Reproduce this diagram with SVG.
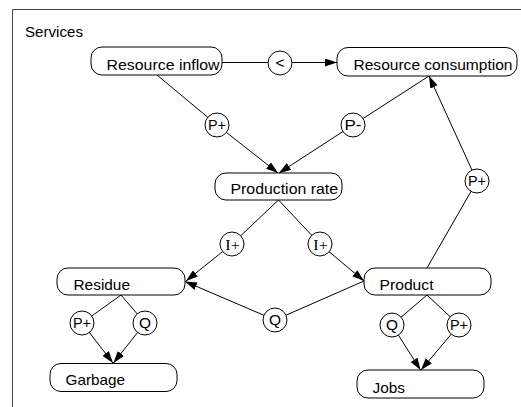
<svg xmlns="http://www.w3.org/2000/svg" width="521" height="407" viewBox="0 0 521 407">
  <defs>
    <marker id="arrow" markerUnits="userSpaceOnUse" markerWidth="12" markerHeight="8" refX="12" refY="4" orient="auto">
      <path d="M0,0 L12,4 L0,8 z" fill="#000"/>
    </marker>
    <style>
      .frame { fill: none; stroke: #444; stroke-width: 1; }
      .box { fill: #fff; stroke: #000; stroke-width: 1; }
      .lbl { font-family: "Liberation Sans", Arial, sans-serif; font-size: 14.5px; fill: #000; }
      .edge { fill: none; stroke: #000; stroke-width: 1; }
      .arr { marker-end: url(#arrow); }
      .rel { fill: #fff; stroke: #000; stroke-width: 1; }
      .rt { font-family: "Liberation Sans", Arial, sans-serif; font-size: 14px; fill: #000; text-anchor: middle; }
      .rts { font-family: "Liberation Serif", "Times New Roman", serif; font-size: 15px; fill: #000; text-anchor: middle; }
    </style>
  </defs>
  <rect width="521" height="407" fill="#fff"/>

  <!-- scenario frame -->
  <g id="frame">
    <path class="frame" d="M12.5,407 V9.5 H521"/>
    <text class="lbl" x="25" y="37" textLength="58" lengthAdjust="spacingAndGlyphs">Services</text>
  </g>

  <!-- dependencies: line through the relation circle, arrow at the target -->
  <g id="connectors">
    <g id="c-inflow-consumption">
      <path class="edge" d="M222,62.5 H280"/>
      <path class="edge arr" d="M280,62.5 H337"/>
      <circle class="rel" cx="280" cy="63" r="12"/>
      <text class="rt" x="280" y="68" textLength="9" lengthAdjust="spacingAndGlyphs">&lt;</text>
    </g>
    <g id="c-inflow-rate">
      <path class="edge" d="M157,75 L217,125"/>
      <path class="edge arr" d="M217,125 L278,173"/>
      <circle class="rel" cx="217" cy="125" r="12"/>
      <text class="rt" x="217" y="130" textLength="18" lengthAdjust="spacingAndGlyphs">P+</text>
    </g>
    <g id="c-consumption-rate">
      <path class="edge" d="M429,76 L353,125"/>
      <path class="edge arr" d="M353,125 L279,173"/>
      <circle class="rel" cx="353" cy="125" r="12"/>
      <text class="rt" x="353" y="130" textLength="17" lengthAdjust="spacingAndGlyphs">P-</text>
    </g>
    <g id="c-product-consumption">
      <path class="edge" d="M427,268 L477,181"/>
      <path class="edge arr" d="M477,181 L429,76"/>
      <circle class="rel" cx="477" cy="181" r="12"/>
      <text class="rt" x="477" y="186" textLength="18" lengthAdjust="spacingAndGlyphs">P+</text>
    </g>
    <g id="c-rate-residue">
      <path class="edge" d="M278.5,200 L232,244"/>
      <path class="edge arr" d="M232,244 L186,281"/>
      <circle class="rel" cx="232" cy="244" r="12"/>
      <text class="rts" x="232.5" y="249.5" textLength="14.5" lengthAdjust="spacingAndGlyphs">I+</text>
    </g>
    <g id="c-rate-product">
      <path class="edge" d="M278.5,200 L320,244"/>
      <path class="edge arr" d="M320,244 L364,281"/>
      <circle class="rel" cx="320" cy="244" r="12"/>
      <text class="rts" x="320.5" y="249.5" textLength="14.5" lengthAdjust="spacingAndGlyphs">I+</text>
    </g>
    <g id="c-product-residue">
      <path class="edge" d="M364,281 L275,320"/>
      <path class="edge arr" d="M275,320 L185,281.5"/>
      <circle class="rel" cx="275" cy="320" r="12"/>
      <text class="rt" x="275" y="325" textLength="12" lengthAdjust="spacingAndGlyphs">Q</text>
    </g>
    <g id="c-residue-garbage-p">
      <path class="edge" d="M121,295 L82,323"/>
      <path class="edge arr" d="M82,323 L113,363"/>
      <circle class="rel" cx="82" cy="323" r="12"/>
      <text class="rt" x="82" y="328" textLength="18" lengthAdjust="spacingAndGlyphs">P+</text>
    </g>
    <g id="c-residue-garbage-q">
      <path class="edge" d="M121,295 L145,323"/>
      <path class="edge arr" d="M145,323 L113.5,363"/>
      <circle class="rel" cx="145" cy="323" r="12"/>
      <text class="rt" x="145" y="328" textLength="12" lengthAdjust="spacingAndGlyphs">Q</text>
    </g>
    <g id="c-product-jobs-q">
      <path class="edge" d="M427,295 L392,325"/>
      <path class="edge arr" d="M392,325 L420.5,370"/>
      <circle class="rel" cx="392" cy="325" r="12"/>
      <text class="rt" x="392" y="330" textLength="12" lengthAdjust="spacingAndGlyphs">Q</text>
    </g>
    <g id="c-product-jobs-p">
      <path class="edge" d="M427,295 L459,325"/>
      <path class="edge arr" d="M459,325 L421,370"/>
      <circle class="rel" cx="459" cy="325" r="12"/>
      <text class="rt" x="459" y="330" textLength="18" lengthAdjust="spacingAndGlyphs">P+</text>
    </g>
  </g>

  <!-- quantities -->
  <g id="resource-inflow">
    <rect class="box" x="91" y="47" width="131" height="28" rx="11"/>
    <text class="lbl" x="106.5" y="69.5" textLength="113" lengthAdjust="spacingAndGlyphs">Resource inflow</text>
  </g>
  <g id="resource-consumption">
    <rect class="box" x="337" y="47.5" width="180" height="28.5" rx="11"/>
    <text class="lbl" x="353.5" y="70" textLength="159" lengthAdjust="spacingAndGlyphs">Resource consumption</text>
  </g>
  <g id="production-rate">
    <rect class="box" x="215" y="173" width="127" height="27" rx="11"/>
    <text class="lbl" x="230.5" y="194" textLength="107.5" lengthAdjust="spacingAndGlyphs">Production rate</text>
  </g>
  <g id="residue">
    <rect class="box" x="57" y="268" width="128" height="27" rx="11"/>
    <text class="lbl" x="73.5" y="290" textLength="56.5" lengthAdjust="spacingAndGlyphs">Residue</text>
  </g>
  <g id="product">
    <rect class="box" x="364" y="268" width="127" height="27" rx="11"/>
    <text class="lbl" x="379.5" y="290" textLength="54" lengthAdjust="spacingAndGlyphs">Product</text>
  </g>
  <g id="garbage">
    <rect class="box" x="50" y="363.5" width="127" height="28" rx="11"/>
    <text class="lbl" x="65.5" y="385" textLength="59.5" lengthAdjust="spacingAndGlyphs">Garbage</text>
  </g>
  <g id="jobs">
    <rect class="box" x="357" y="370" width="127" height="28" rx="11"/>
    <text class="lbl" x="372.5" y="393" textLength="32.5" lengthAdjust="spacingAndGlyphs">Jobs</text>
  </g>
</svg>
